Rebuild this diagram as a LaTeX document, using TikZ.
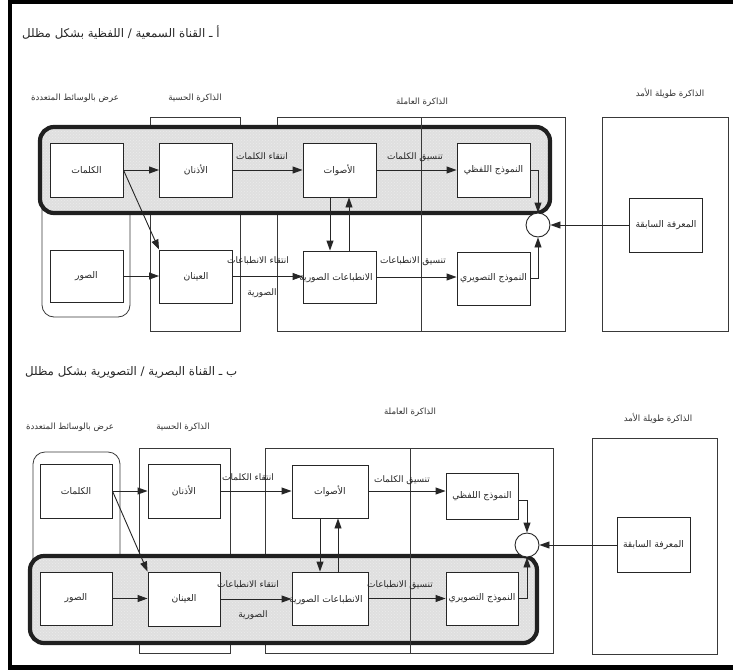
\documentclass[tikz,border=0pt]{standalone}
\usepackage{fontspec}
\usetikzlibrary{arrows.meta,patterns}
\newfontfamily\arabicfont[Script=Arabic]{DejaVu Sans}
\TeXXeTstate=1
\newcommand{\artxt}[1]{{\arabicfont\beginR #1\endR}}
\begin{document}
\begin{tikzpicture}[x=1pt,y=-1pt,
  ln/.style={draw=gray!30!black, line width=0.9pt},
  colbox/.style={draw=gray!45!black, line width=0.8pt},
  bandfill/.style={rounded corners=14pt, fill=gray!25,
     postaction={pattern=crosshatch dots, pattern color=white!85!gray}},
  bandline/.style={draw=gray!25!black, line width=4.2pt, rounded corners=14pt},
  box/.style={ln, fill=white, minimum width=73pt, minimum height=54pt, inner sep=0pt,
     font=\fontsize{9.2}{10}\selectfont, text=black!85},
  junc/.style={ln, circle, fill=white, minimum size=24pt, inner sep=0pt},
  arr/.style={ln, -{Triangle[length=10pt,width=7pt]}},
  hdr/.style={font=\fontsize{8.6}{9}\selectfont, text=black!80, inner sep=0pt},
  ttl/.style={font=\fontsize{11.8}{13}\selectfont, text=black!85, inner sep=0pt, anchor=west},
  elab/.style={font=\fontsize{9}{10}\selectfont, text=black!85, inner sep=0pt}
]
\useasboundingbox (0,0) rectangle (733,670);
\fill[white] (0,0) rectangle (733,670);
% outer frame
\fill[black] (8,0) rectangle (733,4);
\fill[black] (8,0) rectangle (12,670);
\fill[black] (8,665) rectangle (733,670);

% ================= PANEL A =================
\node[ttl] (tA) at (22,33) {\artxt{أ ـ القناة السمعية / اللفظية بشكل مظلل}};
\node[hdr] (hA1) at (75,98) {\artxt{عرض بالوسائط المتعددة}};
\node[hdr] (hA2) at (195,98) {\artxt{الذاكرة الحسية}};
\node[hdr] (hA3) at (422,102) {\artxt{الذاكرة العاملة}};
\node[hdr] (hA4) at (670,93) {\artxt{الذاكرة طويلة الأمد}};

\draw[colbox, rounded corners=12pt] (42,135) rectangle (130,317);
\draw[colbox] (150,117) rectangle (240,331);
\draw[colbox] (277,117) rectangle (565,331);
\draw[colbox] (602,117) rectangle (728,331);
\path[bandfill] (40,127) rectangle (550,213);
\path[bandline] (40,127) rectangle (550,213);
\draw[colbox] (421,117) -- (421,331);

\node[box] (Akal) at (86.5,170) {\artxt{الكلمات}};
\node[box] (Audh) at (196,170) {\artxt{الأذنان}};
\node[box] (Aasw) at (339.5,170) {\artxt{الأصوات}};
\node[box] (Alaf) at (493.5,170.5) {\artxt{النموذج اللفظي}};
\node[box, minimum height=52pt] (Asuw) at (86.5,276) {\artxt{الصور}};
\node[box, minimum height=53pt] (Aayn) at (196,276.5) {\artxt{العينان}};
\node[box, minimum height=52pt] (Aint) at (339.5,277) {};
\node[box, minimum height=53pt] (Atas) at (493.5,278.5) {\artxt{النموذج التصويري}};
\node[junc] (Acir) at (538,225) {};
\node[box] (Amar) at (666,225) {\artxt{المعرفة السابقة}};
\node[font=\fontsize{9.2}{10}\selectfont, text=black!85, inner sep=0pt] (AintT) at (336,278) {\artxt{الانطباعات الصورية}};

\draw[arr] (Akal.east) -- (Audh.west);
\draw[arr] (Audh.east) -- (Aasw.west);
\draw[arr] (Aasw.east) -- (Aasw.east -| Alaf.west);
\draw[arr] (Akal.east) -- (Aayn.north west);
\draw[arr] (Asuw.east) -- (Asuw.east -| Aayn.west);
\draw[arr] (Aayn.east) -- (Aayn.east -| Aint.west);
\draw[arr] (Aint.east) -- (Aint.east -| Atas.west);
\draw[arr] ([xshift=-9.5pt]Aasw.south) -- ([xshift=-9.5pt]Aasw.south |- Aint.north);
\draw[arr] ([xshift=9.5pt]Aint.north) -- ([xshift=9.5pt]Aint.north |- Aasw.south);
\draw[arr] (Alaf.east) -| (Acir.north);
\draw[arr] (Atas.east) -| (Acir.south);
\draw[arr] (Amar.west) -- (Acir.east);

\node[elab] (lA1) at (262,156) {\artxt{انتقاء الكلمات}};
\node[elab] (lA2) at (415,157) {\artxt{تنسيق الكلمات}};
\node[elab] (lA3) at (258,261) {\artxt{انتقاء الانطباعات}};
\node[elab] (lA4) at (262,293) {\artxt{الصورية}};
\node[elab] (lA5) at (413,261) {\artxt{تنسيق الانطباعات}};

% ================= PANEL B =================
\node[ttl] (tB) at (25,372) {\artxt{ب ـ القناة البصرية / التصويرية بشكل مظلل}};
\node[hdr] (hB1) at (70,427) {\artxt{عرض بالوسائط المتعددة}};
\node[hdr] (hB2) at (183,427) {\artxt{الذاكرة الحسية}};
\node[hdr] (hB3) at (410,412) {\artxt{الذاكرة العاملة}};
\node[hdr] (hB4) at (658,418) {\artxt{الذاكرة طويلة الأمد}};

\draw[colbox, rounded corners=12pt] (33,452) rectangle (120,610);
\draw[colbox] (139,448) rectangle (230,653);
\draw[colbox] (265,448) rectangle (553,653);
\draw[colbox] (592,438) rectangle (717,654);
\path[bandfill] (30,556) rectangle (537,643);
\path[bandline] (30,556) rectangle (537,643);
\draw[colbox] (410,448) -- (410,653);

\node[box, minimum width=72pt] (Bkal) at (76,491) {\artxt{الكلمات}};
\node[box, minimum width=72pt] (Budh) at (184,491) {\artxt{الأذنان}};
\node[box, minimum width=76pt, minimum height=53pt] (Basw) at (330,491.5) {\artxt{الأصوات}};
\node[box, minimum width=72pt, minimum height=46pt] (Blaf) at (482,496) {\artxt{النموذج اللفظي}};
\node[box, minimum width=72pt, minimum height=53pt] (Bsuw) at (76,598.5) {\artxt{الصور}};
\node[box, minimum width=72pt, minimum height=54pt] (Bayn) at (184,599) {\artxt{العينان}};
\node[box, minimum width=76pt, minimum height=53pt] (Bint) at (330,598.5) {};
\node[box, minimum width=72pt, minimum height=53pt] (Btas) at (482,598.5) {\artxt{النموذج التصويري}};
\node[junc] (Bcir) at (527,545) {};
\node[box, minimum width=73pt, minimum height=55pt] (Bmar) at (653.5,545) {\artxt{المعرفة السابقة}};
\node[font=\fontsize{9.2}{10}\selectfont, text=black!85, inner sep=0pt] (BintT) at (326,600) {\artxt{الانطباعات الصورية}};

\draw[arr] (Bkal.east) -- (Budh.west);
\draw[arr] (Budh.east) -- (Budh.east -| Basw.west);
\draw[arr] ([yshift=0.5pt]Basw.east) -- ([yshift=0.5pt]Basw.east -| Blaf.west);
\draw[arr] (Bkal.east) -- (Bayn.north west);
\draw[arr] (Bsuw.east) -- (Bsuw.east -| Bayn.west);
\draw[arr] (Bayn.east) -- (Bayn.east -| Bint.west);
\draw[arr] (Bint.east) -- (Bint.east -| Btas.west);
\draw[arr] ([xshift=-10pt]Basw.south) -- ([xshift=-10pt]Basw.south |- Bint.north);
\draw[arr] ([xshift=8pt]Bint.north) -- ([xshift=8pt]Bint.north |- Basw.south);
\draw[arr] ([yshift=-4pt]Blaf.east) -| (Bcir.north);
\draw[arr] (Btas.east) -| (Bcir.south);
\draw[arr] (Bmar.west) -- (Bcir.east);

\node[elab] (lB1) at (248,477) {\artxt{انتقاء الكلمات}};
\node[elab] (lB2) at (402,480) {\artxt{تنسيق الكلمات}};
\node[elab] (lB3) at (248,585) {\artxt{انتقاء الانطباعات}};
\node[elab] (lB4) at (253,615) {\artxt{الصورية}};
\node[elab] (lB5) at (400,585) {\artxt{تنسيق الانطباعات}};
\end{tikzpicture}
\end{document}
